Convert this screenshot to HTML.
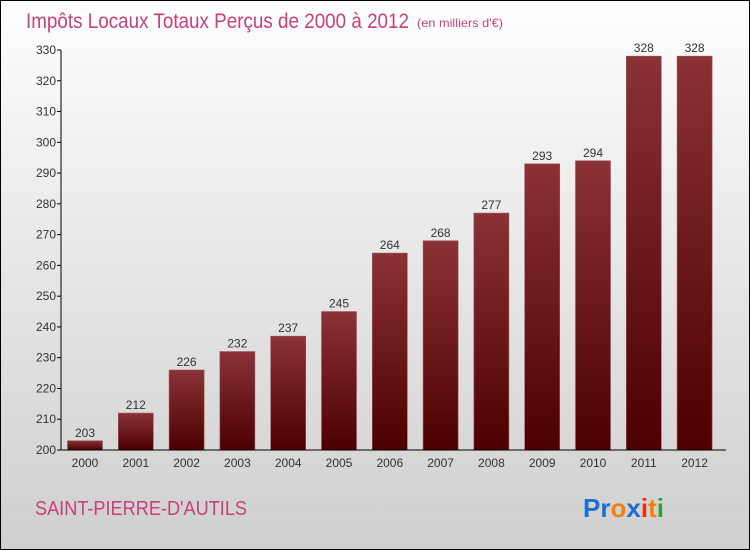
<!DOCTYPE html>
<html><head><meta charset="utf-8"><style>
body{margin:0}
#c{position:relative;width:748px;height:548px;border:1px solid #000;background:linear-gradient(#ffffff,#f4f4f4 20%,#cfcfcf);font-family:"Liberation Sans",sans-serif;overflow:hidden}
</style></head><body>
<div id="c">
<svg width="748" height="548" style="position:absolute;left:0;top:0" id="svg">
<defs><linearGradient id="bg" x1="0" y1="0" x2="0" y2="1"><stop offset="0" stop-color="#8a3236"/><stop offset="1" stop-color="#4c0000"/></linearGradient></defs>
<text x="25" y="27" font-size="21" fill="#c8407a" textLength="383" lengthAdjust="spacingAndGlyphs">Impôts Locaux Totaux Perçus de 2000 à 2012</text>
<text x="416" y="26" font-size="12" fill="#c8407a" textLength="86" lengthAdjust="spacingAndGlyphs">(en milliers d'€)</text>
<text x="34" y="514" font-size="20" fill="#c8407a" textLength="212" lengthAdjust="spacingAndGlyphs">SAINT-PIERRE-D'AUTILS</text>
<text x="582" y="516" font-size="26" font-weight="bold"><tspan fill="#1a6fd0">Pr</tspan><tspan fill="#f08010">o</tspan><tspan fill="#1a6fd0">x</tspan><tspan fill="#e83010">i</tspan><tspan fill="#f08010">t</tspan><tspan fill="#30a030">i</tspan></text>
<g id="g"></g>
</svg>
</div>
<script>
const years=["2000","2001","2002","2003","2004","2005","2006","2007","2008","2009","2010","2011","2012"];
const values=[203,212,226,232,237,245,264,268,277,293,294,328,328];
const ticks=[200,210,220,230,240,250,260,270,280,290,300,310,320,330];
const NS="http://www.w3.org/2000/svg",g=document.getElementById('g');
const y=v=>449-(v-200)*(400/130), x=i=>84+i*50.8;
function el(t,a,txt){const e=document.createElementNS(NS,t);for(const k in a)e.setAttribute(k,a[k]);if(txt!==undefined)e.textContent=txt;g.appendChild(e);return e;}
ticks.forEach(t=>{
 const l=el('line',{x1:56,x2:60,y1:y(t),y2:y(t),stroke:'#000'});
 
 
 const tx=el('text',{x:55,y:y(t)+4,'font-size':12,fill:'#333','text-anchor':'end'},t);
 
 
});
values.forEach((v,i)=>{
 const r=el('rect',{x:x(i)-17.5,y:y(v),width:35,height:y(200)-y(v),fill:'url(#bg)',stroke:'#a05058','stroke-width':0.6});
 
 
 const vl=el('text',{x:x(i),y:y(v)-4,'font-size':12,fill:'#333','text-anchor':'middle'},v);
 
 
 const xl=el('text',{x:x(i),y:466,'font-size':12,fill:'#333','text-anchor':'middle'},years[i]);
 
 
});
const ya=el('line',{x1:60,x2:60,y1:y(330),y2:y(200),stroke:'#000'});


const xa=el('line',{x1:60,x2:725,y1:y(200),y2:y(200),stroke:'#000'});


</script>
</body></html>
